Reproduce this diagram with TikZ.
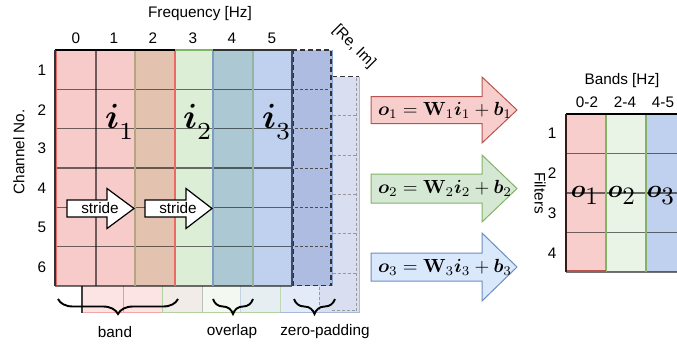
\documentclass[tikz,border=0pt]{standalone}
\usepackage{amsmath}
\usepackage{bm}
\usepackage{graphicx}
\usepackage[no-math]{fontspec}
\setmainfont{Liberation Sans}
\usetikzlibrary{decorations.pathreplacing}

\definecolor{redF}{HTML}{F8CECC}
\definecolor{redS}{HTML}{B85450}
\definecolor{redL}{HTML}{EA6B66}
\definecolor{greenF}{HTML}{D5E8D4}
\definecolor{greenS}{HTML}{82B366}
\definecolor{blueF}{HTML}{DAE8FC}
\definecolor{blueS}{HTML}{6C8EBF}
\definecolor{cA}{HTML}{F8CBCB}
\definecolor{cB}{HTML}{E3C2B0}
\definecolor{cC}{HTML}{DDEED6}
\definecolor{cD}{HTML}{ABC8D3}
\definecolor{cE}{HTML}{BFD1EE}
\definecolor{cP}{HTML}{AFBCE2}
\definecolor{bA}{HTML}{FCE4E4}
\definecolor{bB}{HTML}{F1ECE7}
\definecolor{bC}{HTML}{F3F8F1}
\definecolor{bD}{HTML}{E6EEF2}
\definecolor{bE}{HTML}{E3EAF8}
\definecolor{bP}{HTML}{D9DEF1}
\definecolor{oG}{HTML}{E9F3E6}
\definecolor{lnOl}{HTML}{B3A77F}
\definecolor{lnBl}{HTML}{7D9DC6}
\definecolor{lnGg}{HTML}{93B3A3}
\definecolor{lnDk}{HTML}{3B4A66}

\newcommand\BlockArrow[7]{\draw[#1] (#2,{#5-#6}) -- (#3,{#5-#6}) -- (#3,{#5-#7}) -- (#4,#5) -- (#3,{#5+#7}) -- (#3,{#5+#6}) -- (#2,{#5+#6}) -- cycle;}
\newcommand\BigI[1]{\scalebox{3.5}{$\bm{i}_{\lower1.8pt\hbox{$\scriptstyle #1$}}$}}
\newcommand\BigO[1]{\scalebox{2.5}{$\bm{o}_{\textstyle #1}$}}
\newcommand\EqTxt[1]{\scalebox{1.9}{$\bm{o}_{#1} = \mathbf{W}_{#1}\bm{i}_{#1} + \bm{b}_{#1}$}}

\begin{document}
\begin{tikzpicture}[x=1pt,y=-1pt,
  lab/.style={font=\fontsize{15.3}{18}\selectfont, inner sep=0pt},
  gridln/.style={draw=black, draw opacity=0.55, line width=1.2pt},
  dashpad/.style={draw=black!80, line width=1.3pt, dash pattern=on 5pt off 3pt},
  dashin/.style={line width=1pt, dash pattern=on 3pt off 2pt},
  bigi/.style={inner sep=0pt},
  bigo/.style={inner sep=0pt},
  eqn/.style={inner sep=0pt},
  brc/.style={decorate, decoration={brace, mirror, amplitude=15pt}, line width=1.9pt},
  strideA/.style={draw=black, fill=white, line width=1.2pt},
  eqR/.style={draw=redS, fill=redF, line width=1pt},
  eqG/.style={draw=greenS, fill=greenF, line width=1pt},
  eqB/.style={draw=blueS, fill=blueF, line width=1pt},
]
\useasboundingbox (0,0) rectangle (677,349);
\clip (0,0) rectangle (677,349);

% ---------- back layer ([Re, Im] depth) ----------
\fill[bA] (82,76.5) rectangle (162,312.5);
\fill[bB] (162,76.5) rectangle (202,312.5);
\fill[bC] (202,76.5) rectangle (240,312.5);
\fill[bD] (240,76.5) rectangle (280,312.5);
\fill[bE] (280,76.5) rectangle (319,312.5);
\fill[bP] (319,76.5) rectangle (359,312.5);
\draw[black!30, line width=1pt] (123,286) -- (123,312.5);
\draw[greenS!60, line width=1pt] (162,286) -- (162,312.5);
\draw[black!25, line width=1pt] (202,286) -- (202,312.5);
\draw[blueS!40, line width=1pt] (240,286) -- (240,312.5);
\draw[greenS!50, line width=1pt] (280,286) -- (280,312.5);
\draw[dashin, black!40] (319,287) -- (319,312);
\draw[redL!60, line width=1.2pt] (82,312.5) -- (162,312.5);
\draw[greenS!60, line width=1.2pt] (162,312.5) -- (280,312.5);
\draw[blueS!60, line width=1.2pt] (280,312.5) -- (359,312.5);
\draw[black!75, line width=1.2pt] (82,286) -- (82,312.5);
\draw[blueS!60, line width=1pt] (359,76.5) -- (359,312.5);
\draw[dashin, black!40] (356.5,78) -- (356.5,311);
\draw[dashin, black!40] (332,310.5) -- (356.5,310.5);
\draw[dashpad] (332,76.5) -- (359,76.5);
\foreach \yy in {115.8,155.2,194.5,233.8,273.2}
  \draw[dashin, black!40] (333,\yy) -- (356,\yy);

% ---------- front layer ----------
\fill[cA] (55,50) rectangle (135,286);
\fill[cB] (135,50) rectangle (175,286);
\fill[cC] (175,50) rectangle (213,286);
\fill[cD] (213,50) rectangle (253,286);
\fill[cE] (253,50) rectangle (292,286);
\fill[cP] (292,50) rectangle (332,286);
\foreach \yy in {89.3,128.7,168,207.3,246.7,286}
  \draw[gridln] (55,\yy) -- (292,\yy);
\draw[gridln] (96,50) -- (96,286);
\draw[lnOl, line width=1.2pt] (135,50) -- (135,286);
\draw[redL, line width=1.2pt] (175,50) -- (175,286);
\draw[lnBl, line width=1.2pt] (213,50) -- (213,286);
\draw[lnGg, line width=1.2pt] (253,50) -- (253,286);
\draw[lnDk, line width=1.2pt] (292,50) -- (292,286);
\draw[black, line width=1.5pt] (55,50) -- (175,50);
\draw[greenS, line width=1.5pt] (175,50) -- (213,50);
\draw[black!80, line width=1.5pt] (213,50) -- (292,50);
\draw[black!80, line width=1.5pt] (55,50) -- (55,286);
\draw[redL, line width=1pt] (56.5,51) -- (56.5,285);
% padding column
\draw[blueS!80, line width=1pt] (332,50) -- (332,286);
\draw[dashpad] (292,50) -- (331,50) -- (331,285.5) -- (293.5,285.5) -- (293.5,50);
\foreach \yy in {89.3,128.7,168,207.3,246.7}
  \draw[dashin, black!70] (295,\yy) -- (330,\yy);

% ---------- labels of the input grid ----------
\node[lab] (freq) at (200,14) {Frequency [Hz]};
\node[lab] (c0) at (76,38) {0};
\node[lab] (c1) at (114,38) {1};
\node[lab] (c2) at (153,38) {2};
\node[lab] (c3) at (193,38) {3};
\node[lab] (c4) at (232,38) {4};
\node[lab] (c5) at (272,38) {5};
\node[lab, rotate=-45] (reim) at (354,47) {[Re, Im]};
\node[lab, rotate=90] (chan) at (19,152) {Channel No.};
\node[lab] (r1) at (42,70) {1};
\node[lab] (r2) at (42,110) {2};
\node[lab] (r3) at (42,148) {3};
\node[lab] (r4) at (42,188) {4};
\node[lab] (r5) at (42,227) {5};
\node[lab] (r6) at (42,267) {6};

\node[bigi, anchor=base] (i1) at (120,128) {\BigI{1}};
\node[bigi, anchor=base] (i2) at (198,128) {\BigI{2}};
\node[bigi, anchor=base] (i3) at (277,128) {\BigI{3}};

% ---------- stride arrows ----------
\BlockArrow{strideA}{67}{107}{134}{208.5}{8.5}{20}
\BlockArrow{strideA}{145}{186}{212}{208.5}{8.5}{20}
\node[lab] (s1) at (100,208) {stride};
\node[lab] (s2) at (178,208) {stride};

% ---------- braces ----------
\coordinate (b1l) at (58,299);
\coordinate (b1r) at (178,299);
\coordinate (b2l) at (213,299);
\coordinate (b2r) at (253,299);
\coordinate (b3l) at (294,299);
\coordinate (b3r) at (335,299);
\draw[brc] (b1l) -- (b1r);
\draw[brc] (b2l) -- (b2r);
\draw[brc] (b3l) -- (b3r);
\node[lab] (band) at (115,332) {band};
\node[lab] (ovl) at (232,332) {overlap};
\node[lab] (zp) at (325,332) {zero-padding};

% ---------- equation arrows ----------
\BlockArrow{eqR}{371}{482}{517}{110}{13.5}{33}
\BlockArrow{eqG}{371}{482}{517}{188.5}{14.5}{33.5}
\BlockArrow{eqB}{371}{482}{517}{267}{14}{34}
\node[eqn] (e1) at (445,110) {\EqTxt{1}};
\node[eqn] (e2) at (445,188.5) {\EqTxt{2}};
\node[eqn] (e3) at (445,267) {\EqTxt{3}};

% ---------- output grid ----------
\fill[redF] (566,114) rectangle (606,272);
\fill[oG] (606,114) rectangle (646,272);
\fill[cE] (646,114) rectangle (686,272);
\foreach \yy in {153.5,193,232.5,272}
  \draw[gridln] (566,\yy) -- (686,\yy);
\draw[greenS, line width=1.2pt] (606,114) -- (606,272);
\draw[greenS, line width=1.2pt] (646,114) -- (646,272);
\draw[redS, line width=1.2pt] (566,271) -- (606,271);
\draw[black, line width=1.5pt] (566,114) -- (686,114);
\draw[black!70!redS, line width=1.5pt] (566,114) -- (566,272);
\node[lab] (bands) at (622,81) {Bands [Hz]};
\node[lab] (k0) at (587,102) {0-2};
\node[lab] (k1) at (625,102) {2-4};
\node[lab] (k2) at (663,102) {4-5};
\node[lab] (f1) at (552,133) {1};
\node[lab] (f2) at (552,173) {2};
\node[lab] (f3) at (552,213) {3};
\node[lab] (f4) at (552,253) {4};
\node[lab, rotate=-90] (filt) at (540,193) {Filters};
\node[bigo, anchor=base] (o1) at (585,197) {\BigO{1}};
\node[bigo, anchor=base] (o2) at (622,197) {\BigO{2}};
\node[bigo, anchor=base] (o3) at (661,197) {\BigO{3}};
\end{tikzpicture}
\end{document}
